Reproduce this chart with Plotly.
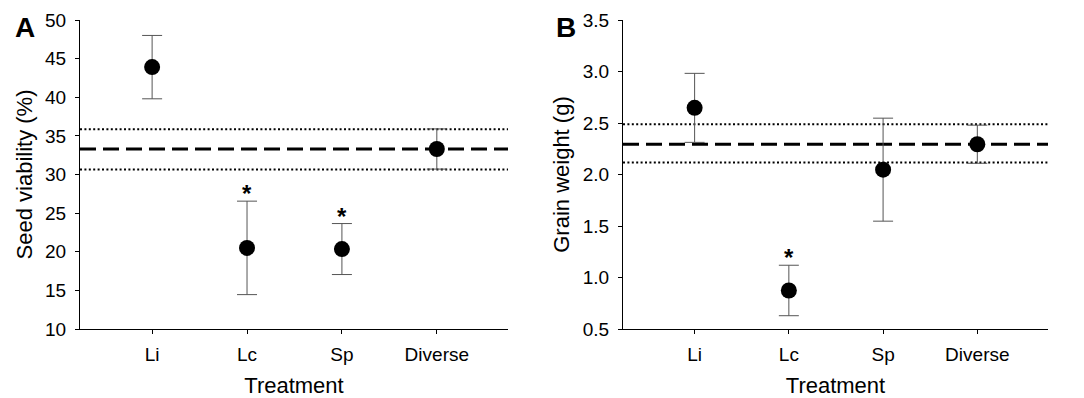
import plotly.graph_objects as go

categories = ["Li", "Lc", "Sp", "Diverse"]

# Panel A: seed viability (%)
viability_mean = [43.9, 20.5, 20.35, 33.3]
viability_err = [4.1, 6.05, 3.3, 2.6]
viability_sig = [False, True, True, False]
viability_ref_mean = 33.3
viability_ref_lo = 30.66
viability_ref_hi = 35.85

# Panel B: grain weight (g)
grain_mean = [2.647, 0.874, 2.047, 2.294]
grain_err = [0.335, 0.245, 0.5, 0.185]
grain_sig = [False, True, False, False]
grain_ref_mean = 2.294
grain_ref_lo = 2.116
grain_ref_hi = 2.488

FONT = "Liberation Sans, Arial, sans-serif"
xpos = [1, 2, 3, 4]
W, H = 1076, 390

fig = go.Figure()

def add_panel(mean, err, xa, ya):
    fig.add_trace(go.Scatter(
        x=xpos, y=mean, mode="markers", xaxis=xa, yaxis=ya,
        marker=dict(size=16, color="black"),
        error_y=dict(type="data", array=err, visible=True, color="#555",
                     thickness=1, width=10),
        showlegend=False, hoverinfo="skip"))

add_panel(viability_mean, viability_err, "x", "y")
add_panel(grain_mean, grain_err, "x2", "y2")

def add_ref(xref, yref, m, lo, hi):
    for v, dash, w in [(hi, "2px,2.4px", 2), (lo, "2px,2.4px", 2), (m, "16px,7px", 3)]:
        fig.add_shape(type="line", xref=xref + " domain", yref=yref,
                      x0=0, x1=1, y0=v, y1=v,
                      line=dict(color="black", width=w, dash=dash), layer="below")

add_ref("x", "y", viability_ref_mean, viability_ref_lo, viability_ref_hi)
add_ref("x2", "y2", grain_ref_mean, grain_ref_lo, grain_ref_hi)

def add_stars(mean, err, sig, xref, yref):
    for x, m, e, s in zip(xpos, mean, err, sig):
        if s:
            fig.add_annotation(x=x, y=m + e, xref=xref, yref=yref, text="<b>*</b>",
                               showarrow=False, yanchor="bottom", yshift=-8,
                               font=dict(family=FONT, size=24, color="black"))

add_stars(viability_mean, viability_err, viability_sig, "x", "y")
add_stars(grain_mean, grain_err, grain_sig, "x2", "y2")

axis_common = dict(showgrid=False, zeroline=False, showline=True, linecolor="black",
                   linewidth=1.3, ticks="outside", tickcolor="black", ticklen=4,
                   tickfont=dict(family=FONT, size=19, color="black"),
                   automargin=False)
xtitle = dict(text="Treatment", font=dict(family=FONT, size=22), standoff=15)

ydom = [69 / H, 378 / H]
fig.update_layout(
    width=W, height=H,
    margin=dict(l=0, r=0, t=0, b=0),
    paper_bgcolor="white", plot_bgcolor="white",
    font=dict(family=FONT, color="black"),
    xaxis=dict(domain=[72 / W, 500 / W], range=[0.24, 4.75],
               tickvals=xpos, ticktext=categories, ticklabelstandoff=4,
               title=xtitle, **axis_common),
    yaxis=dict(domain=ydom, range=[10, 50], tickvals=[10, 15, 20, 25, 30, 35, 40, 45, 50],
               ticklabelstandoff=5,
               title=dict(text="Seed viability (%)", font=dict(family=FONT, size=22), standoff=6),
               **axis_common),
    xaxis2=dict(domain=[615 / W, 1040 / W], range=[0.24, 4.75],
                tickvals=xpos, ticktext=categories, anchor="y2", ticklabelstandoff=4,
                title=xtitle, **axis_common),
    yaxis2=dict(domain=ydom, range=[0.5, 3.5], anchor="x2",
                tickvals=[0.5, 1.0, 1.5, 2.0, 2.5, 3.0, 3.5], tickformat=".1f",
                ticklabelstandoff=5,
                title=dict(text="Grain weight (g)", font=dict(family=FONT, size=22), standoff=6),
                **axis_common),
)

for label, xp in [("A", 17 / W), ("B", 558 / W)]:
    fig.add_annotation(x=xp, y=1 - 19 / H, xref="paper", yref="paper", text=f"<b>{label}</b>",
                       showarrow=False, xanchor="center", yanchor="middle",
                       font=dict(family=FONT, size=28, color="black"))

fig.write_html("out.html")
